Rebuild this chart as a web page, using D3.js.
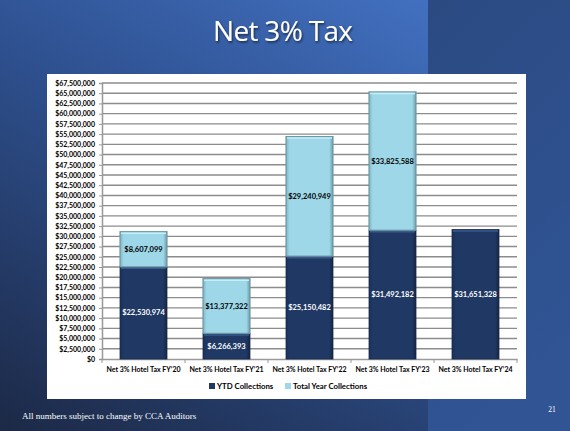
<!DOCTYPE html>
<meta charset="utf-8">
<style>
body { margin:0; background:#1f2d4c; }
svg text { font-family: Lato, "Open Sans", sans-serif; }
</style>
<body>
<div id="slide"></div>
<script src="https://d3js.org/d3.v7.min.js"></script>
<script>
var W = 570, H = 431;

var categories = ["Net 3% Hotel Tax FY\u201920", "Net 3% Hotel Tax FY\u201921", "Net 3% Hotel Tax FY\u201922",
                  "Net 3% Hotel Tax FY\u201923", "Net 3% Hotel Tax FY\u201924"];
var ytdCollections = [22530974, 6266393, 25150482, 31492182, 31651328];
var totalYearCollections = [8607099, 13377322, 29240949, 33825588, 0];
var yTicks = d3.range(0, 67500001, 2500000);
var seriesNames = ["YTD Collections", "Total Year Collections"];

var svg = d3.select("#slide").append("svg")
    .attr("width", W)
    .attr("height", H);

var defs = svg.append("defs");

var bg = defs.append("linearGradient").attr("id", "bg")
    .attr("x1", "0.75").attr("y1", "0").attr("x2", "0").attr("y2", "1");
bg.append("stop").attr("offset", "0").attr("stop-color", "#4270c0");
bg.append("stop").attr("offset", "0.4").attr("stop-color", "#2f5292");
bg.append("stop").attr("offset", "1").attr("stop-color", "#1c2946");

var side = defs.append("linearGradient").attr("id", "side")
    .attr("x1", "0").attr("y1", "0").attr("x2", "0.3").attr("y2", "1");
side.append("stop").attr("offset", "0").attr("stop-color", "#2b4a82");
side.append("stop").attr("offset", "1").attr("stop-color", "#305494");

var darkBar = defs.append("linearGradient").attr("id", "darkBar")
    .attr("x1", "0").attr("x2", "1").attr("y1", "0").attr("y2", "0");
darkBar.append("stop").attr("offset", "0").attr("stop-color", "#1a3058");
darkBar.append("stop").attr("offset", "0.08").attr("stop-color", "#1f3864");
darkBar.append("stop").attr("offset", "0.92").attr("stop-color", "#1f3864");
darkBar.append("stop").attr("offset", "1").attr("stop-color", "#142542");

var lightBar = defs.append("linearGradient").attr("id", "lightBar")
    .attr("x1", "0").attr("x2", "1").attr("y1", "0").attr("y2", "0");
lightBar.append("stop").attr("offset", "0").attr("stop-color", "#7fb5c4");
lightBar.append("stop").attr("offset", "0.08").attr("stop-color", "#9ed8e8");
lightBar.append("stop").attr("offset", "0.92").attr("stop-color", "#9ed8e8");
lightBar.append("stop").attr("offset", "1").attr("stop-color", "#6e9aa8");

var shadow = defs.append("filter").attr("id", "shadow");
shadow.append("feDropShadow").attr("dx", 1).attr("dy", 1.5).attr("stdDeviation", 1)
    .attr("flood-color", "#000").attr("flood-opacity", 0.6);

// slide background
svg.append("rect").attr("width", W).attr("height", H).attr("fill", "url(#bg)");
svg.append("rect").attr("x", 428).attr("width", W - 428).attr("height", H).attr("fill", "url(#side)");

svg.append("text")
    .attr("x", 283).attr("y", 41)
    .attr("text-anchor", "middle")
    .attr("fill", "#fff")
    .attr("font-size", 28)
    .style("font-family", "'Open Sans', sans-serif")
    .attr("textLength", 140)
    .attr("filter", "url(#shadow)")
    .text("Net 3% Tax");

// chart box
svg.append("rect").attr("x", 47).attr("y", 74).attr("width", 479).attr("height", 325).attr("fill", "#fff");

var x = d3.scaleBand()
    .domain(categories)
    .range([102, 517])
    .paddingInner(0.434)
    .paddingOuter(0.217);

var y = d3.scaleLinear()
    .domain([0, 67500000])
    .range([359, 83]);

var fmt = d3.format("$,");

// gridlines
svg.append("g").selectAll("line")
  .data(yTicks.slice(1))
  .enter().append("line")
    .attr("x1", 102).attr("x2", 517)
    .attr("y1", function(d) { return y(d); })
    .attr("y2", function(d) { return y(d); })
    .attr("stroke", "#8c8c8c")
    .attr("stroke-width", 1.4);

// y axis
var yAxis = svg.append("g")
    .attr("transform", "translate(102,0)")
    .call(d3.axisLeft(y).tickValues(yTicks).tickSize(3).tickPadding(4).tickFormat(fmt));
yAxis.selectAll("text").attr("font-size", 7).attr("font-weight", "bold").attr("fill", "#000")
    .style("font-family", "Lato, sans-serif");
yAxis.selectAll("line").attr("stroke", "#999");
yAxis.select(".domain").attr("stroke", "#999").attr("stroke-width", 1.5);

// x axis
var xAxis = svg.append("g")
    .attr("transform", "translate(0,359)")
    .call(d3.axisBottom(x).tickSize(0).tickPadding(8));
xAxis.selectAll("text").attr("font-size", 7).attr("font-weight", "bold").attr("fill", "#000")
    .style("font-family", "Lato, sans-serif");
xAxis.select(".domain").attr("stroke", "#999").attr("stroke-width", 1.5);
xAxis.selectAll(".sep")
  .data(d3.range(categories.length + 1))
  .enter().append("line")
    .attr("x1", function(i) { return 102 + i * x.step(); })
    .attr("x2", function(i) { return 102 + i * x.step(); })
    .attr("y1", 0).attr("y2", 4)
    .attr("stroke", "#999");

// bars
var rows = categories.map(function(c, i) {
  return { cat: c, ytd: ytdCollections[i], total: totalYearCollections[i] };
});

var bars = svg.append("g").selectAll("g")
  .data(rows)
  .enter().append("g");

bars.append("rect")
    .attr("x", function(d) { return x(d.cat); })
    .attr("width", x.bandwidth())
    .attr("y", function(d) { return y(d.ytd); })
    .attr("height", function(d) { return y(0) - y(d.ytd); })
    .attr("fill", "url(#darkBar)")
    .attr("stroke", "#15284a")
    .attr("stroke-width", 0.8);

bars.append("line")
    .attr("x1", function(d) { return x(d.cat) + 1; })
    .attr("x2", function(d) { return x(d.cat) + x.bandwidth() - 1; })
    .attr("y1", function(d) { return y(d.ytd) + 1.5; })
    .attr("y2", function(d) { return y(d.ytd) + 1.5; })
    .attr("stroke", "#3a5a8e")
    .attr("stroke-width", 1.5);

var tops = bars.filter(function(d) { return d.total > 0; });

tops.append("rect")
    .attr("x", function(d) { return x(d.cat); })
    .attr("width", x.bandwidth())
    .attr("y", function(d) { return y(d.ytd + d.total); })
    .attr("height", function(d) { return y(d.ytd) - y(d.ytd + d.total); })
    .attr("fill", "url(#lightBar)")
    .attr("stroke", "#6f97a3")
    .attr("stroke-width", 1.2);

tops.append("line")
    .attr("x1", function(d) { return x(d.cat) + 1; })
    .attr("x2", function(d) { return x(d.cat) + x.bandwidth() - 1; })
    .attr("y1", function(d) { return y(d.ytd + d.total) + 1.5; })
    .attr("y2", function(d) { return y(d.ytd + d.total) + 1.5; })
    .attr("stroke", "#c4eef8")
    .attr("stroke-width", 1.5);

bars.append("text")
    .attr("x", function(d) { return x(d.cat) + x.bandwidth() / 2; })
    .attr("y", function(d) { return y(d.ytd / 2) + 2.5; })
    .attr("text-anchor", "middle")
    .attr("font-size", 7.5)
    .attr("font-weight", "bold")
    .attr("fill", "#fff")
    .text(function(d) { return fmt(d.ytd); });

tops.append("text")
    .attr("x", function(d) { return x(d.cat) + x.bandwidth() / 2; })
    .attr("y", function(d) { return y(d.ytd + d.total / 2) + 2.5; })
    .attr("text-anchor", "middle")
    .attr("font-size", 7.5)
    .attr("font-weight", "bold")
    .attr("fill", "#000")
    .text(function(d) { return fmt(d.total); });

// legend
var legend = svg.append("g").selectAll("g")
  .data(seriesNames)
  .enter().append("g")
    .attr("transform", function(d, i) { return "translate(" + [209, 285][i] + ",386)"; });

legend.append("rect")
    .attr("x", 0).attr("y", -3)
    .attr("width", 6).attr("height", 6)
    .attr("fill", function(d, i) { return i ? "url(#lightBar)" : "#1f3864"; });

legend.append("text")
    .attr("x", 8).attr("y", 3)
    .attr("font-size", 7.8)
    .attr("font-weight", "bold")
    .attr("fill", "#000")
    .text(function(d) { return d; });

// footer
svg.append("text")
    .attr("x", 22).attr("y", 419)
    .attr("fill", "#fff")
    .attr("font-size", 9)
    .style("font-family", "'Liberation Serif', serif")
    .text("All numbers subject to change by CCA Auditors");

svg.append("text")
    .attr("x", 552).attr("y", 412)
    .attr("text-anchor", "middle")
    .attr("fill", "#fff")
    .attr("font-size", 7.5)
    .style("font-family", "'Liberation Serif', serif")
    .text("21");
</script>
</body>
